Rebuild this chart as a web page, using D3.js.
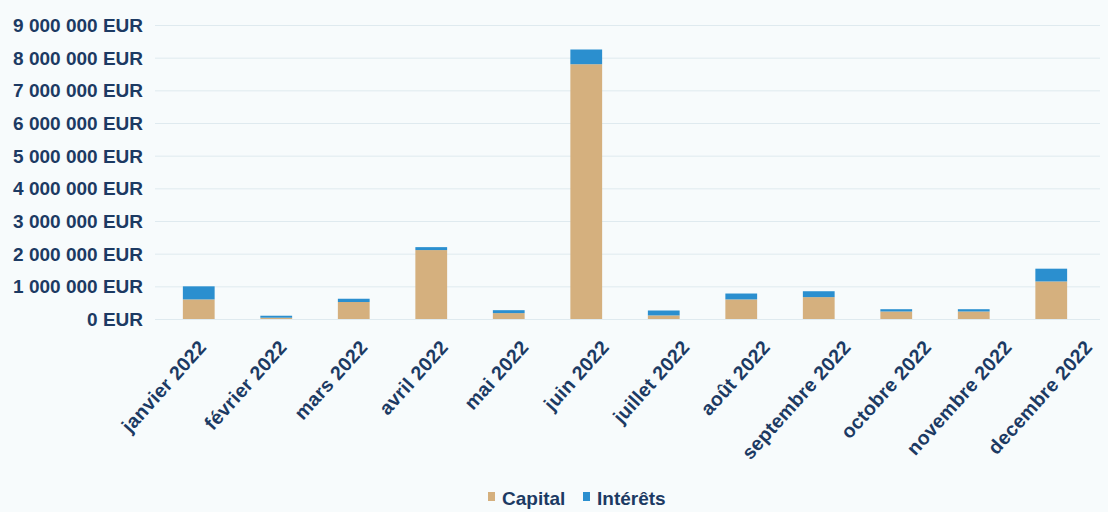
<!DOCTYPE html>
<html><head><meta charset="utf-8">
<script src="https://cdn.jsdelivr.net/npm/d3@7"></script>
<style>
html,body{margin:0;padding:0;background:#f7fbfc;}
svg{display:block;}
text{font-family:"Liberation Sans",Arial,sans-serif;font-weight:bold;fill:#1c3a63;}
</style></head>
<body>
<svg id="chart" width="1108" height="512"></svg>
<script>
const categories = ["janvier 2022","février 2022","mars 2022","avril 2022","mai 2022","juin 2022","juillet 2022","août 2022","septembre 2022","octobre 2022","novembre 2022","decembre 2022"];
const capital  = [600000, 40000, 520000, 2110000, 180000, 7800000, 110000, 600000, 670000, 230000, 230000, 1150000];
const interets = [400000, 60000, 100000, 90000, 90000, 450000, 150000, 180000, 180000, 70000, 70000, 390000];
const yTicks = [0,1000000,2000000,3000000,4000000,5000000,6000000,7000000,8000000,9000000];
const seriesNames = ["Capital","Intérêts"];
const colors = ["#d5b07e","#2b8fcf"];

const svg = d3.select("#chart");
const x = d3.scaleBand().domain(categories).range([160,1090]).paddingInner(0.59).paddingOuter(0.295);
const xLabel = d3.scalePoint().domain(categories).range([207,1093]);
const y = d3.scaleLinear().domain([0,9000000]).range([319,25]);

const fmt = v => d3.format(",")(v).replace(/,/g," ") + " EUR";

// gridlines
svg.append("g").selectAll("line").data(yTicks).join("line")
  .attr("x1",155).attr("x2",1100)
  .attr("y1",d=>y(d)+0.5).attr("y2",d=>y(d)+0.5)
  .attr("stroke","#dfeaef").attr("stroke-width",1);

// y axis labels
const yAxis = d3.axisLeft(y).tickValues(yTicks).tickFormat(fmt).tickSize(0).tickPadding(0);
const yg = svg.append("g").attr("transform","translate(143,0)").call(yAxis);
yg.select(".domain").remove();
yg.selectAll("text").attr("font-size",19).attr("dy","0.35em").style("font-family","'Liberation Sans',Arial,sans-serif").style("font-weight","bold").attr("fill","#1c3a63");

// stacked bars
const rows = categories.map((c,i)=>({cat:c, Capital:capital[i], "Intérêts":interets[i]}));
const stack = d3.stack().keys(seriesNames)(rows);
svg.append("g").selectAll("g").data(stack).join("g")
  .attr("fill",(d,i)=>colors[i])
  .selectAll("rect").data(d=>d).join("rect")
  .attr("x",d=>x(d.data.cat))
  .attr("width",x.bandwidth())
  .attr("y",d=>y(d[1]))
  .attr("height",d=>y(d[0])-y(d[1]));

// x axis labels
const xAxis = d3.axisBottom(xLabel).tickSize(0).tickPadding(0);
const xg = svg.append("g").attr("transform","translate(0,348)").call(xAxis);
xg.select(".domain").remove();
xg.selectAll("text")
  .attr("font-size",19.5).style("font-family","'Liberation Sans',Arial,sans-serif").style("font-weight","bold").style("letter-spacing","0.3px").attr("fill","#1c3a63")
  .attr("text-anchor","end").attr("dy",null).attr("y",0)
  .attr("transform","rotate(-48)");

// legend
const legend = svg.append("g").attr("transform","translate(488,498)");
const items = [{n:"Capital",c:colors[0],x:0},{n:"Intérêts",c:colors[1],x:95}];
const li = legend.selectAll("g").data(items).join("g").attr("transform",d=>`translate(${d.x},0)`);
li.append("rect").attr("x",0).attr("y",-6).attr("width",7).attr("height",9).attr("fill",d=>d.c);
li.append("text").attr("x",14).attr("y",0).attr("dy","0.35em").attr("font-size",19).text(d=>d.n);
</script>
</body></html>
